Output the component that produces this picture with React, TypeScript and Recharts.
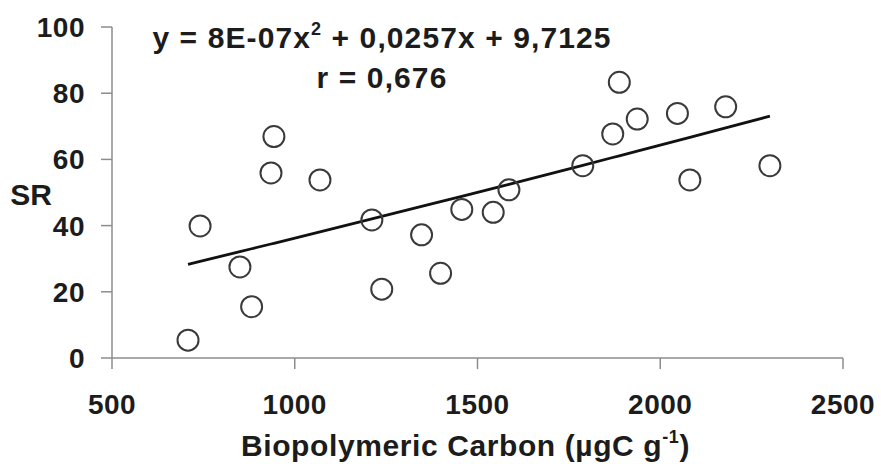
import React from "react";
import { ScatterChart, Scatter, XAxis, YAxis, Customized } from "recharts";

// Biopolymeric carbon (µgC g-1) and SR for each sample
const carbon = [708, 741, 850, 882, 935, 943, 1069, 1211, 1238, 1347, 1399, 1457, 1543, 1586, 1788, 1870, 1888, 1937, 2047, 2081, 2179, 2300];
const sr = [5.4, 39.9, 27.5, 15.5, 55.9, 66.9, 53.8, 41.7, 20.8, 37.2, 25.6, 44.9, 44, 50.8, 58.1, 67.7, 83.3, 72.2, 73.9, 53.8, 75.9, 58.1];

// Fitted polynomial: y = a x^2 + b x + c
const fitA = 8e-7;
const fitB = 0.0257;
const fitC = 9.7125;
const fitR = "0,676";

const xTicks = [500, 1000, 1500, 2000, 2500];
const yTicks = [0, 20, 40, 60, 80, 100];

const points = carbon.map((x, i) => ({ x, y: sr[i] }));
const trend = [...carbon]
  .sort((p, q) => p - q)
  .map((x) => ({ x, y: fitA * x * x + fitB * x + fitC }));

const FONT = "'Liberation Sans', Arial, Helvetica, sans-serif";
const INK = "#1c1c1c";
const AXIS = "#8c8c8c";

const Ring = (props: any) => {
  const { cx, cy } = props;
  if (cx == null || cy == null) return <g />;
  return <circle cx={cx} cy={cy} r={10.5} fill="none" stroke="#3a3a3a" strokeWidth={2} />;
};

const NoShape = () => <g />;

const XLabel = (props: any) => {
  const vb = props.viewBox || {};
  const cx = vb.x + vb.width / 2 - 12;
  return (
    <text x={cx} y={456} textAnchor="middle" fontFamily={FONT} fontWeight="bold" fontSize={30} fill={INK} letterSpacing={0.6}>
      Biopolymeric Carbon (µgC g
      <tspan fontSize={18} dy={-13}>-1</tspan>
      <tspan dy={13}>)</tspan>
    </text>
  );
};

const YLabel = () => (
  <text x={31} y={205} textAnchor="middle" fontFamily={FONT} fontWeight="bold" fontSize={30} fill={INK}>
    SR
  </text>
);

const Equation = () => (
  <g fontFamily={FONT} fontWeight="bold" fill={INK}>
    <text x={382} y={48} textAnchor="middle" fontSize={30} letterSpacing={1.1}>
      y = 8E-07x
      <tspan fontSize={18} dy={-13}>2</tspan>
      <tspan dy={13}> + 0,0257x + 9,7125</tspan>
    </text>
    <text x={382} y={88} textAnchor="middle" fontSize={30} letterSpacing={1.1}>
      {`r = ${fitR}`}
    </text>
  </g>
);

export default function App() {
  const tickStyle = { fontSize: 28, fontWeight: "bold", fill: INK, fontFamily: FONT, letterSpacing: 0.5 };
  return (
    <div style={{ position: "absolute", left: 0, top: 0, background: "#fff" }}>
      <ScatterChart width={881} height={464} margin={{ top: 27, right: 38, bottom: 0, left: 0 }}>
        <XAxis
          type="number"
          dataKey="x"
          domain={[500, 2500]}
          ticks={xTicks}
          interval={0}
          height={106}
          tickSize={11}
          tickMargin={25}
          stroke={AXIS}
          strokeWidth={1.5}
          tick={tickStyle}
          label={<XLabel />}
        />
        <YAxis
          type="number"
          dataKey="y"
          domain={[0, 100]}
          ticks={yTicks}
          interval={0}
          width={112}
          tickSize={11}
          tickMargin={16}
          stroke={AXIS}
          strokeWidth={1.5}
          tick={tickStyle}
          label={<YLabel />}
        />
        <Scatter
          data={trend}
          line={{ stroke: "#111", strokeWidth: 2.8 }}
          shape={NoShape}
          isAnimationActive={false}
        />
        <Scatter data={points} shape={<Ring />} isAnimationActive={false} />
        <Customized component={Equation} />
      </ScatterChart>
    </div>
  );
}
